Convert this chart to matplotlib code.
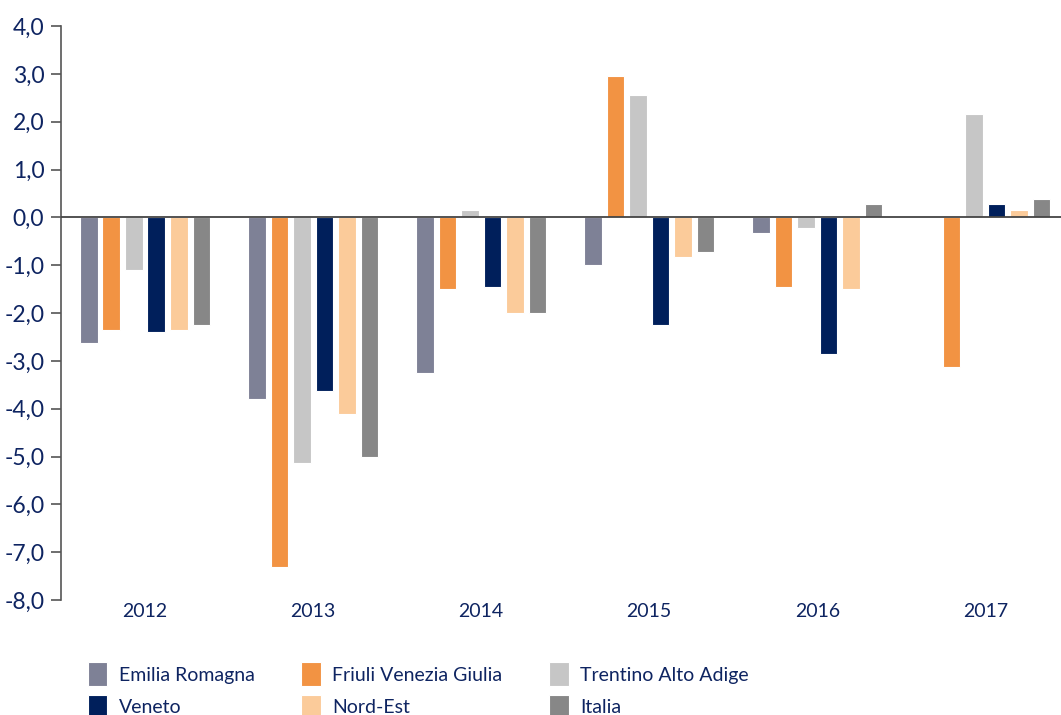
import numpy as np
import matplotlib
matplotlib.use("Agg")
import matplotlib.pyplot as plt

plt.rcParams['font.family'] = ['Lato', 'DejaVu Sans']

years = ["2012", "2013", "2014", "2015", "2016", "2017"]
series = ["Emilia Romagna", "Friuli Venezia Giulia", "Trentino Alto Adige",
          "Veneto", "Nord-Est", "Italia"]

emilia = [-2.62, -3.80, -3.25, -1.00, -0.33, 0.0]
friuli = [-2.35, -7.30, -1.50, 2.95, -1.45, -3.13]
trentino = [-1.10, -5.13, 0.15, 2.55, -0.22, 2.17]
veneto = [-2.40, -3.62, -1.45, -2.25, -2.85, 0.27]
nord_est = [-2.35, -4.12, -2.00, -0.83, -1.50, 0.15]
italia = [-2.25, -5.02, -2.00, -0.72, 0.27, 0.38]

colors = ["#7e8196", "#f29343", "#c6c6c6", "#001f5b", "#fbcb9a", "#878787"]
text_color = "#0e2461"

values = [emilia, friuli, trentino, veneto, nord_est, italia]

fig = plt.figure(figsize=(10.61, 7.15), dpi=100)
ax = fig.add_axes([0.0575, 0.1608, 0.9425, 0.8028])

x = np.arange(len(years))
slot = 0.134
width = 0.105
handles = []
for i, (name, vals) in enumerate(zip(series, values)):
    offset = (i - 2.5) * slot
    h = ax.bar(x + offset, vals, width, color=colors[i], label=name,
               edgecolor="white", linewidth=0.8)
    handles.append(h)

ax.axhline(0, color="#444444", linewidth=1.3, zorder=3)
ax.set_xlim(-0.5, 5.45)
ax.set_ylim(-8, 4)
ax.set_yticks(np.arange(-8, 5, 1))
ax.set_yticklabels([f"{v:.1f}".replace(".", ",") for v in np.arange(-8, 5, 1)])
ax.set_xticks(x)
ax.set_xticklabels(years)

for s in ["top", "right", "bottom"]:
    ax.spines[s].set_visible(False)
ax.spines["left"].set_color("#555555")
ax.spines["left"].set_linewidth(1.2)
ax.tick_params(axis="y", length=7, width=1.2, color="#555555",
               labelsize=16.5, labelcolor=text_color, pad=5)
ax.tick_params(axis="x", length=0, labelsize=14, labelcolor=text_color, pad=2)

order = [0, 3, 1, 4, 2, 5]
leg = fig.legend([handles[k] for k in order], [series[k] for k in order],
                 loc="upper left", bbox_to_anchor=(0.066, 0.098), ncol=3,
                 frameon=False, fontsize=14, handlelength=1.0, handleheight=1.5,
                 columnspacing=2.4, labelspacing=0.45, handletextpad=0.6)
for t in leg.get_texts():
    t.set_color(text_color)

fig.savefig("out.png", dpi=100)
